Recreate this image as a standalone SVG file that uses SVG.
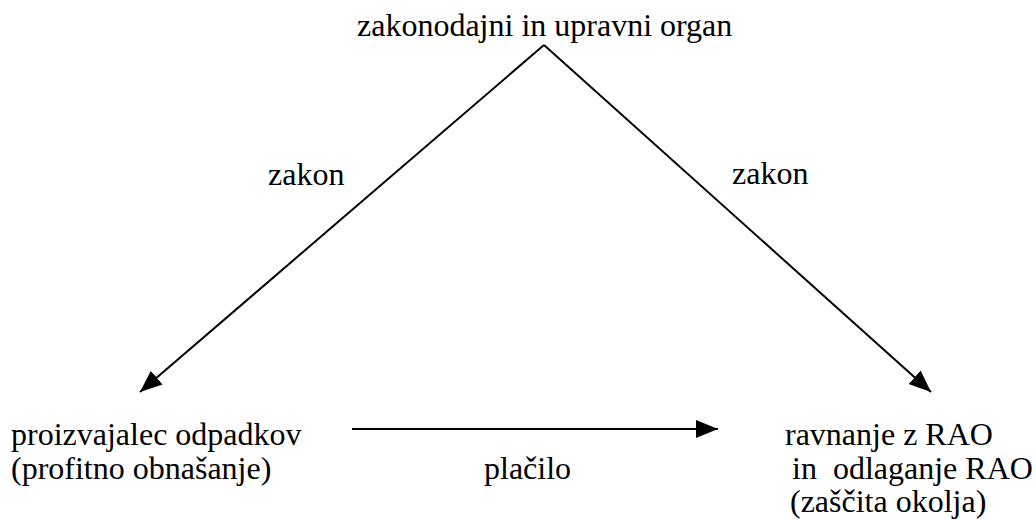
<svg xmlns="http://www.w3.org/2000/svg" width="1036" height="520" viewBox="0 0 1036 520">
  <style>
    text { font-family: "Liberation Serif", "Times New Roman", serif; font-size: 32px; fill: #000; }
    .edge { stroke: #000; stroke-width: 2; fill: none; }
  </style>
  <defs>
    <marker id="head" markerUnits="userSpaceOnUse" markerWidth="24" markerHeight="20" refX="22" refY="10" orient="auto">
      <polygon points="0,1 22,10 0,19" fill="#000"/>
    </marker>
  </defs>
  <rect width="1036" height="520" fill="#fff"/>

  <g id="connectors">
    <path class="edge" d="M544,45 L140,392" marker-end="url(#head)"/>
    <path class="edge" d="M544,45 L931,392" marker-end="url(#head)"/>
    <path class="edge" d="M352,429 L718,429" marker-end="url(#head)"/>
    <text x="268" y="185">zakon</text>
    <text x="732" y="184">zakon</text>
    <text x="484" y="479">plačilo</text>
  </g>

  <g id="organ">
    <text x="357" y="36">zakonodajni in upravni organ</text>
  </g>

  <g id="proizvajalec">
    <text x="11" y="445">proizvajalec odpadkov</text>
    <text x="11" y="479">(profitno obnašanje)</text>
  </g>

  <g id="ravnanje">
    <text x="785" y="445">ravnanje z RAO</text>
    <text x="784" y="479" xml:space="preserve"> in  odlaganje RAO</text>
    <text x="790" y="512">(zaščita okolja)</text>
  </g>
</svg>
